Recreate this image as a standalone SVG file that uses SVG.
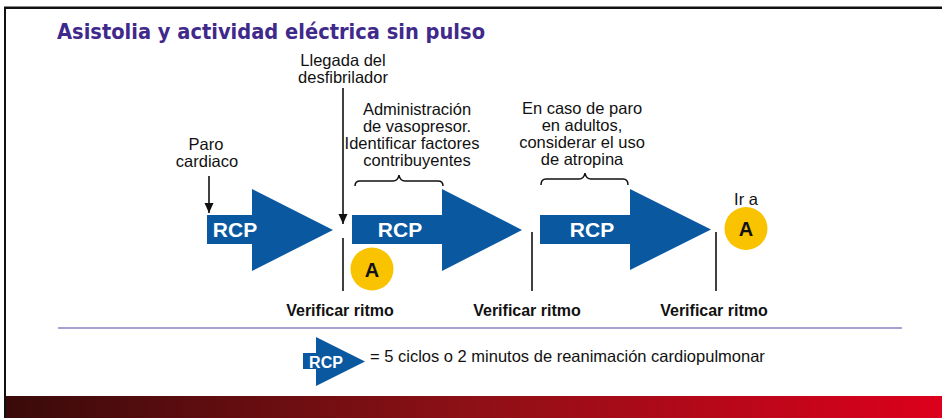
<svg xmlns="http://www.w3.org/2000/svg" width="942" height="418" viewBox="0 0 942 418">
  <defs>
    <linearGradient id="barGrad" x1="0" y1="0" x2="1" y2="0">
      <stop offset="0" stop-color="#3a0a0a"/>
      <stop offset="0.5" stop-color="#8e1016"/>
      <stop offset="1" stop-color="#dc001c"/>
    </linearGradient>
    <marker id="ah" viewBox="0 0 10 10" refX="10" refY="5" markerWidth="10" markerHeight="10" markerUnits="userSpaceOnUse" orient="auto">
      <path d="M0,0.5 L10,5 L0,9.5 Z" fill="#111"/>
    </marker>
  </defs>
  <style>
    .t { font-family: "Liberation Sans", Arial, sans-serif; fill: #111; font-size: 16.5px; text-anchor: middle; }
    .b { font-weight: bold; font-size: 16px; }
    .rcp { font-family: "Liberation Sans", Arial, sans-serif; font-weight: bold; fill: #fff; font-size: 21px; text-anchor: middle; }
    .arrow { fill: #0a58a0; }
    .circ { fill: #f9c300; }
    .ca { font-family: "Liberation Sans", Arial, sans-serif; font-weight: bold; fill: #111; font-size: 20px; text-anchor: middle; }
    .ln { stroke: #111; stroke-width: 1.6; fill: none; }
    .brace { stroke: #111; stroke-width: 1.5; fill: none; }
  </style>

  <rect x="0" y="0" width="942" height="418" fill="#fff"/>
  <g id="frame">
    <rect x="6" y="396" width="936" height="22" fill="url(#barGrad)"/>
    <line x1="4" y1="7.8" x2="942" y2="7.8" stroke="#111" stroke-width="2.6"/>
    <line x1="5" y1="7" x2="5" y2="418" stroke="#111" stroke-width="2"/>
  </g>

  <g id="title">
    <text x="57" y="39" font-family="'DejaVu Sans', 'Liberation Sans', sans-serif" font-weight="bold" font-size="22" fill="#3f2a8c" textLength="428" lengthAdjust="spacingAndGlyphs">Asistolia y actividad eléctrica sin pulso</text>
  </g>

  <g id="connectors">
    <line class="ln" x1="209" y1="176" x2="209" y2="213" marker-end="url(#ah)"/>
    <line class="ln" x1="343" y1="88" x2="343" y2="224" marker-end="url(#ah)"/>
    <line class="ln" x1="343" y1="238" x2="343" y2="291"/>
    <line class="ln" x1="532" y1="232" x2="532" y2="291"/>
    <line class="ln" x1="716" y1="232" x2="716" y2="291"/>
    <path class="brace" d="M355,186 Q355,181 360,181 L393,181 Q398,181 399,175 Q400,181 405,181 L438,181 Q443,181 443,186"/>
    <path class="brace" d="M541,185 Q541,179 546,179 L579,179 Q584,179 585,173 Q586,179 591,179 L623,179 Q628,179 628,185"/>
    <line x1="58" y1="328" x2="902" y2="328" stroke="#8f80c6" stroke-width="1.6"/>
  </g>

  <g id="paro">
    <text class="t" x="206" y="150">Paro</text>
    <text class="t" x="207" y="167">cardiaco</text>
  </g>

  <g id="desfibrilador">
    <text class="t" x="343" y="66">Llegada del</text>
    <text class="t" x="343" y="83">desfibrilador</text>
  </g>

  <g id="vasopresor">
    <text class="t" x="417" y="115">Administración</text>
    <text class="t" x="417" y="132">de vasopresor.</text>
    <text class="t" x="412" y="149">Identificar factores</text>
    <text class="t" x="417" y="166">contribuyentes</text>
  </g>

  <g id="atropina">
    <text class="t" x="582" y="114">En caso de paro</text>
    <text class="t" x="582" y="131">en adultos,</text>
    <text class="t" x="582" y="148">considerar el uso</text>
    <text class="t" x="582" y="165">de atropina</text>
  </g>

  <g id="rcp1">
    <path class="arrow" d="M207,215 L252,215 L252,189 L333,230 L252,271 L252,244 L207,244 Z"/>
    <text class="rcp" x="235" y="237">RCP</text>
  </g>

  <g id="rcp2">
    <path class="arrow" d="M352,215 L442,215 L442,189 L522,230 L442,271 L442,244 L352,244 Z"/>
    <text class="rcp" x="400" y="237">RCP</text>
  </g>

  <g id="rcp3">
    <path class="arrow" d="M540,215 L630,215 L630,189 L711,229.5 L630,270 L630,244 L540,244 Z"/>
    <text class="rcp" x="592" y="237">RCP</text>
  </g>

  <g id="circleA1">
    <circle class="circ" cx="372" cy="269" r="21.5"/>
    <text class="ca" x="372" y="276.5">A</text>
  </g>

  <g id="irA">
    <text class="t" x="746" y="205">Ir a</text>
    <circle class="circ" cx="746" cy="228.5" r="21.5"/>
    <text class="ca" x="746" y="236">A</text>
  </g>

  <g id="verificar1">
    <text class="t b" x="340" y="316">Verificar ritmo</text>
  </g>
  <g id="verificar2">
    <text class="t b" x="527" y="316">Verificar ritmo</text>
  </g>
  <g id="verificar3">
    <text class="t b" x="714" y="316">Verificar ritmo</text>
  </g>

  <g id="legend">
    <path class="arrow" d="M303,353 L316,353 L316,337 L365,361.5 L316,386 L316,369 L303,369 Z"/>
    <text class="rcp" x="326" y="367.5" style="font-size:16px">RCP</text>
    <text class="t" x="370" y="362" style="text-anchor:start">= 5 ciclos o 2 minutos de reanimación cardiopulmonar</text>
  </g>
</svg>
